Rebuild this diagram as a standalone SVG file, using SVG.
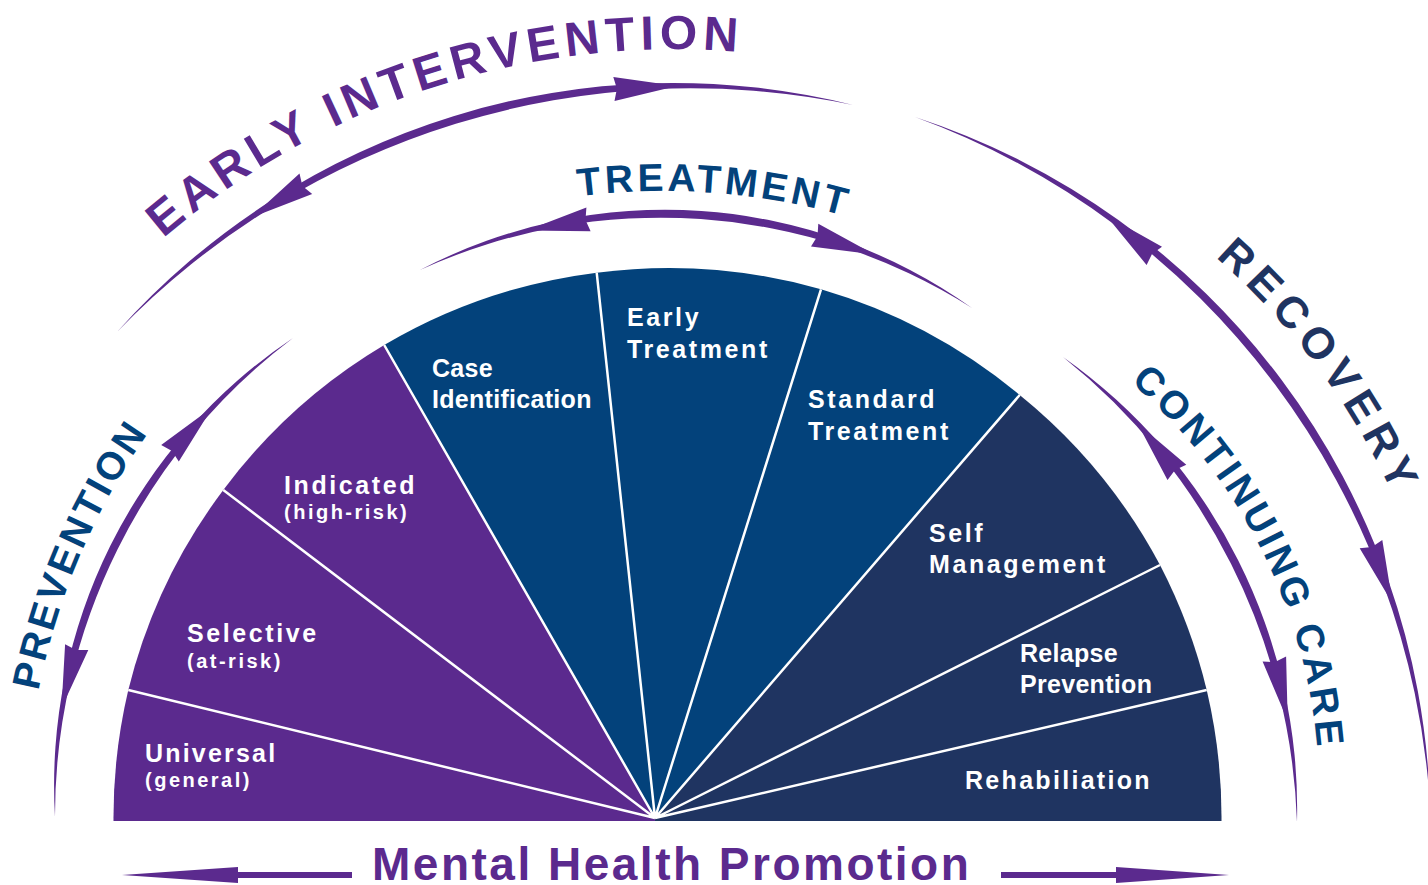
<svg xmlns="http://www.w3.org/2000/svg" width="1428" height="885" viewBox="0 0 1428 885">
<defs>
<style>
.lbl{font-family:"Liberation Sans",Arial,sans-serif;font-weight:bold;fill:#fff;font-size:25px;letter-spacing:2.6px}
.sub{font-size:20px;letter-spacing:2.5px}
.nar{letter-spacing:0.3px}
.cap{font-family:"Liberation Sans",Arial,sans-serif;font-weight:bold}
.sep{stroke:#fff;stroke-width:2.5;fill:none}
.pur{fill:#5B2A8E}
.blu{fill:#03427B}
.nav{fill:#1F3461}
.arr{fill:#5B2A8E}
</style>
<path id="p-ei" d="M -111.8,836 A 786.8 786.8 0 0 1 1461.8,836"/>
<path id="p-tr" d="M -10.6,865 A 674 674 0 0 1 1337.4,865"/>
<path id="p-rc" d="M 49,788 A 704 704 0 0 1 1457,788"/>
<path id="p-cc" d="M 235,793 A 542 542 0 0 1 1319,793"/>
<path id="p-pv" d="M 26,820 A 674 674 0 0 1 1374,820"/>
</defs>
<rect width="1428" height="885" fill="#fff"/>

<g id="universal">
<path class="pur" d="M655,821 L113.5,821 A554 554 0 0 1 128.3,690 L655,818 Z"/>
<text class="lbl" x="145" y="762" style="letter-spacing:2.2px">Universal</text>
<text class="lbl sub" x="145" y="787">(general)</text>
</g>
<g id="selective">
<path class="pur" d="M655,818 L128.3,690 A554 554 0 0 1 223.3,490 Z"/>
<text class="lbl" x="187" y="642">Selective</text>
<text class="lbl sub" x="187" y="668">(at-risk)</text>
</g>
<g id="indicated">
<path class="pur" d="M655,818 L223.3,490 A554 554 0 0 1 384.2,345 Z"/>
<text class="lbl" x="284" y="494">Indicated</text>
<text class="lbl sub" x="284" y="519">(high-risk)</text>
</g>
<g id="case-identification">
<path class="blu" d="M655,818 L384.2,345 A554 554 0 0 1 596.7,272.7 Z"/>
<text class="lbl nar" x="432" y="377">Case</text>
<text class="lbl nar" x="432" y="408">Identification</text>
</g>
<g id="early-treatment">
<path class="blu" d="M655,818 L596.7,272.7 A554 554 0 0 1 821,289.3 Z"/>
<text class="lbl" x="627" y="326">Early</text>
<text class="lbl" x="627" y="358">Treatment</text>
</g>
<g id="standard-treatment">
<path class="blu" d="M655,818 L821,289.3 A554 554 0 0 1 1019.7,395 Z"/>
<text class="lbl" x="808" y="408">Standard</text>
<text class="lbl" x="808" y="440">Treatment</text>
</g>
<g id="self-management">
<path class="nav" d="M655,818 L1019.7,395 A554 554 0 0 1 1160,565 Z"/>
<text class="lbl" x="929" y="542">Self</text>
<text class="lbl" x="929" y="573">Management</text>
</g>
<g id="relapse-prevention">
<path class="nav" d="M655,818 L1160,565 A554 554 0 0 1 1206.7,690 Z"/>
<text class="lbl nar" x="1020" y="662">Relapse</text>
<text class="lbl nar" x="1020" y="693">Prevention</text>
</g>
<g id="rehabilitation">
<path class="nav" d="M655,818 L1206.7,690 A554 554 0 0 1 1221.5,821 L655,821 Z"/>
<text class="lbl" x="965" y="789" style="letter-spacing:2.3px">Rehabiliation</text>
</g>

<g id="separators" class="sep">
<path d="M655,818 L128.3,690 M655,818 L223.3,490 M655,818 L384.2,345 M655,818 L596.7,272.7 M655,818 L821,289.3 M655,818 L1019.7,395 M655,818 L1160,565 M655,818 L1206.7,690"/>
</g>

<g id="early-intervention">
<text class="cap" font-size="48" fill="#5B2A8E" letter-spacing="5.4" text-anchor="middle"><textPath href="#p-ei" startOffset="991">EARLY INTERVENTION</textPath></text>
</g>
<g id="treatment">
<text class="cap" font-size="39" fill="#03427B" letter-spacing="3.75" text-anchor="middle"><textPath href="#p-tr" startOffset="1109">TREATMENT</textPath></text>
</g>
<g id="recovery">
<text class="cap" font-size="44" fill="#1F3461" letter-spacing="7.3" text-anchor="middle"><textPath href="#p-rc" startOffset="1762">RECOVERY</textPath></text>
</g>
<g id="continuing-care">
<text class="cap" font-size="39" fill="#03427B" letter-spacing="3.7" text-anchor="middle"><textPath href="#p-cc" startOffset="1448">CONTINUING CARE</textPath></text>
</g>
<g id="prevention">
<text class="cap" font-size="39" fill="#03427B" letter-spacing="3.1" text-anchor="middle"><textPath href="#p-pv" startOffset="272">PREVENTION</textPath></text>
</g>
<g id="mental-health-promotion">
<text class="cap" font-size="46" fill="#5B2A8E" letter-spacing="2.5" x="372" y="880">Mental Health Promotion</text>
</g>

<g id="connectors" class="arr">
<path d="M117,332 A745.9 745.9 0 0 1 853,105 A797.8 797.8 0 0 0 117,332 Z"/>
<polygon points="250.9,217.8 312.2,194 302.4,185.9 299.5,173.6"/>
<polygon points="676.9,86 614.5,100.9 616.9,88.8 613.3,76.9"/>

<path d="M915,117 A747.3 747.3 0 0 1 1430,805 A785.8 785.8 0 0 0 915,117 Z"/>
<polygon points="1105.9,215.2 1162,246.8 1152,254 1146.6,265"/>
<polygon points="1392.6,603.5 1382.3,540.1 1372,547 1359.7,548.3"/>

<path d="M420,270 A528.9 528.9 0 0 1 972,308 A580.8 580.8 0 0 0 420,270 Z"/>
<polygon points="526.5,230.5 590.6,231.3 585.5,220 586.4,207.6"/>
<polygon points="874.4,254.4 811,246.5 817.5,236 818.3,223.7"/>

<path d="M55,817 A538.4 538.4 0 0 1 293,338 A598.1 598.1 0 0 0 55,817 Z"/>
<polygon points="212.5,407.2 178.8,461.4 172,451 161.2,445"/>
<polygon points="61.5,708 88.3,650 76,650 65.1,644.2"/>

<path d="M1063,357 A552.9 552.9 0 0 1 1297,822 A621.9 621.9 0 0 0 1063,357 Z"/>
<polygon points="1137.6,423.5 1186.3,464.8 1175,470 1167.5,479.9"/>
<polygon points="1287.7,720.7 1286.1,656.6 1275,662 1262.6,661.6"/>

<path d="M122,875 L238,867 L238,872 L352,872 L352,878 L238,878 L238,883 Z"/>
<path d="M1229,875 L1116,867 L1116,872 L1001,872 L1001,878 L1116,878 L1116,883 Z"/>
</g>
</svg>
